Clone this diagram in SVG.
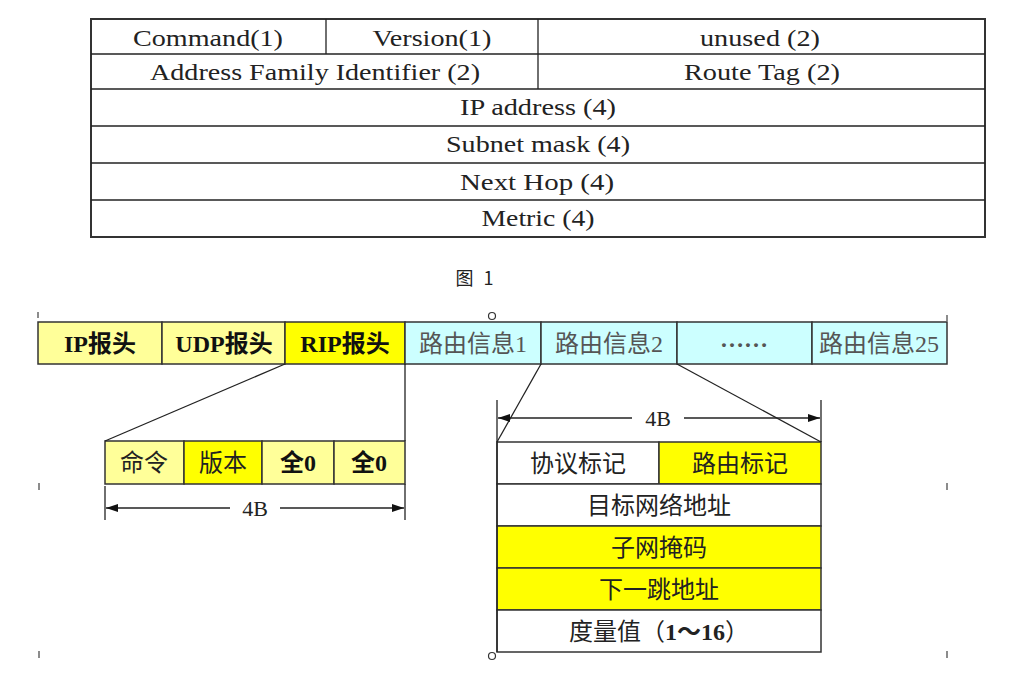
<svg xmlns="http://www.w3.org/2000/svg" width="1017" height="678" viewBox="0 0 1017 678">
<style>
.cell{stroke:#333;stroke-width:1.5}
.tt{font-family:"Liberation Serif","Noto Sans CJK SC",serif;font-size:23px;fill:#222;text-anchor:middle}
.cn{font-family:"Liberation Serif","Noto Sans CJK SC",serif;font-size:24px;fill:#222;text-anchor:middle}
.cb{font-family:"Liberation Serif","Noto Sans CJK SC",serif;font-size:24px;font-weight:bold;fill:#111;text-anchor:middle}
.cg{font-family:"Liberation Serif","Noto Sans CJK SC",serif;font-size:24px;fill:#555;text-anchor:middle}
.ly{fill:#ffff99}
.yy{fill:#ffff00}
.cy{fill:#ccffff}
.wh{fill:#ffffff}
.ln{stroke:#222;stroke-width:1.3;fill:none}
.mk{stroke:#666;stroke-width:1.5}
</style>
<defs>
<marker id="ah" viewBox="0 0 12 8" refX="12" refY="4" markerWidth="12" markerHeight="8" markerUnits="userSpaceOnUse" orient="auto">
<path d="M0,0 L12,4 L0,8 Z" fill="#111"/>
</marker>
</defs>
<rect width="1017" height="678" fill="#ffffff"/>

<g id="rip-format-table">
<rect x="91" y="19" width="894" height="218" fill="#fff" stroke="#333" stroke-width="2"/>
<g class="ln">
<line x1="91" y1="54" x2="985" y2="54"/>
<line x1="91" y1="89" x2="985" y2="89"/>
<line x1="91" y1="126" x2="985" y2="126"/>
<line x1="91" y1="163" x2="985" y2="163"/>
<line x1="91" y1="200" x2="985" y2="200"/>
<line x1="326" y1="19" x2="326" y2="54"/>
<line x1="538" y1="19" x2="538" y2="89"/>
</g>
<text class="tt" x="208" y="46" textLength="150" lengthAdjust="spacingAndGlyphs">Command(1)</text>
<text class="tt" x="432" y="46" textLength="119" lengthAdjust="spacingAndGlyphs">Version(1)</text>
<text class="tt" x="760" y="46" textLength="120" lengthAdjust="spacingAndGlyphs">unused (2)</text>
<text class="tt" x="315" y="80" textLength="330" lengthAdjust="spacingAndGlyphs">Address Family Identifier (2)</text>
<text class="tt" x="762" y="80" textLength="156" lengthAdjust="spacingAndGlyphs">Route Tag (2)</text>
<text class="tt" x="538" y="115" textLength="156" lengthAdjust="spacingAndGlyphs">IP address (4)</text>
<text class="tt" x="538" y="152" textLength="184" lengthAdjust="spacingAndGlyphs">Subnet mask (4)</text>
<text class="tt" x="537" y="190" textLength="154" lengthAdjust="spacingAndGlyphs">Next  Hop (4)</text>
<text class="tt" x="538" y="226" textLength="113" lengthAdjust="spacingAndGlyphs">Metric (4)</text>
</g>

<g id="caption">
<text x="476" y="285" font-family="'Noto Sans CJK SC',sans-serif" font-size="18" fill="#222" text-anchor="middle" letter-spacing="3">图 1</text>
</g>

<g id="packet-bar">
<rect class="cell ly" x="38" y="322" width="124" height="42"/>
<rect class="cell ly" x="162" y="322" width="123" height="42"/>
<rect class="cell yy" x="285" y="322" width="120" height="42"/>
<rect class="cell cy" x="405" y="322" width="136" height="42"/>
<rect class="cell cy" x="541" y="322" width="136" height="42"/>
<rect class="cell cy" x="677" y="322" width="135" height="42"/>
<rect class="cell cy" x="812" y="322" width="135" height="42"/>
<text class="cb" x="100" y="352">IP报头</text>
<text class="cb" x="224" y="352">UDP报头</text>
<text class="cb" x="345" y="352">RIP报头</text>
<text class="cg" x="473" y="352">路由信息1</text>
<text class="cg" x="609" y="352">路由信息2</text>
<text class="cg" x="744" y="347" font-weight="bold">……</text>
<text class="cg" x="879" y="352">路由信息25</text>
</g>

<g id="rip-header-detail">
<rect class="cell ly" x="105" y="441" width="79" height="43"/>
<rect class="cell yy" x="184" y="441" width="78" height="43"/>
<rect class="cell ly" x="262" y="441" width="72" height="43"/>
<rect class="cell ly" x="334" y="441" width="71" height="43"/>
<text class="cn" x="144" y="471">命令</text>
<text class="cn" x="223" y="471">版本</text>
<text class="cb" x="298" y="471">全0</text>
<text class="cb" x="369" y="471">全0</text>
</g>

<g id="route-entry-detail">
<rect class="cell wh" x="497" y="442" width="162" height="42"/>
<rect class="cell yy" x="659" y="442" width="162" height="42"/>
<rect class="cell wh" x="497" y="484" width="324" height="42"/>
<rect class="cell yy" x="497" y="526" width="324" height="42" stroke-width="2.5"/>
<rect class="cell yy" x="497" y="568" width="324" height="42" stroke-width="2.5"/>
<rect class="cell wh" x="497" y="610" width="324" height="42"/>
<text class="cn" x="578" y="472">协议标记</text>
<text class="cn" x="740" y="472">路由标记</text>
<text class="cn" x="659" y="514">目标网络地址</text>
<text class="cn" x="659" y="556">子网掩码</text>
<text class="cn" x="659" y="598">下一跳地址</text>
<text class="cn" x="659" y="640">度量值（<tspan font-weight="bold">1～16</tspan>）</text>
</g>

<g id="connectors">
<line class="ln" x1="285" y1="364" x2="105" y2="441"/>
<line class="ln" x1="405" y1="364" x2="405" y2="441"/>
<line class="ln" x1="541" y1="364" x2="497" y2="442"/>
<line class="ln" x1="677" y1="364" x2="821" y2="442"/>
<line class="ln" x1="105" y1="486" x2="105" y2="520"/>
<line class="ln" x1="405" y1="484" x2="405" y2="520"/>
<line class="ln" x1="230" y1="508" x2="106" y2="508" marker-end="url(#ah)"/>
<line class="ln" x1="280" y1="508" x2="404" y2="508" marker-end="url(#ah)"/>
<text x="255" y="516" font-family="'Liberation Serif',serif" font-size="22" fill="#222" text-anchor="middle">4B</text>
<line class="ln" x1="497" y1="400" x2="497" y2="652"/>
<line class="ln" x1="821" y1="400" x2="821" y2="442"/>
<line class="ln" x1="632" y1="418" x2="498" y2="418" marker-end="url(#ah)"/>
<line class="ln" x1="684" y1="418" x2="820" y2="418" marker-end="url(#ah)"/>
<text x="658" y="426" font-family="'Liberation Serif',serif" font-size="22" fill="#222" text-anchor="middle">4B</text>
<circle cx="492" cy="316" r="3.5" fill="#fff" stroke="#333" stroke-width="1.2"/>
<circle cx="492" cy="656" r="3.5" fill="#fff" stroke="#333" stroke-width="1.2"/>
</g>

<g id="margin-marks">
<line class="mk" x1="38" y1="312" x2="38" y2="318"/>
<line class="mk" x1="947" y1="315" x2="947" y2="321"/>
<line class="mk" x1="39" y1="483" x2="39" y2="490"/>
<line class="mk" x1="39" y1="651" x2="39" y2="658"/>
<line class="mk" x1="947" y1="483" x2="947" y2="490"/>
<line class="mk" x1="947" y1="651" x2="947" y2="658"/>
</g>
</svg>
